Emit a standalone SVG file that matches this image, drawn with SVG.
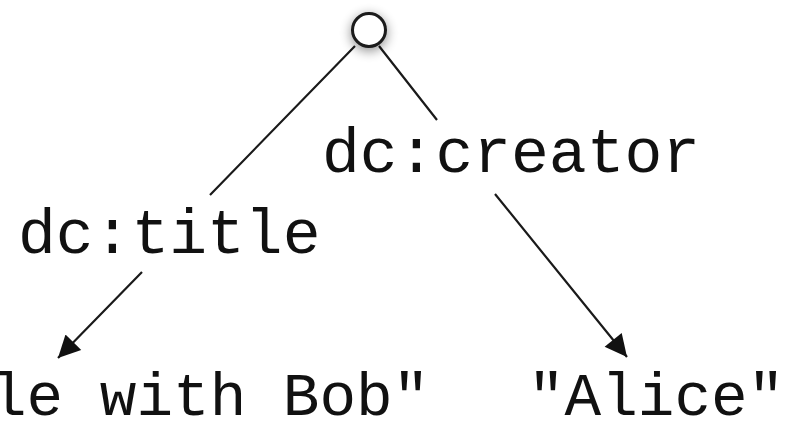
<svg xmlns="http://www.w3.org/2000/svg" width="787" height="421" viewBox="0 0 787 421">
<style>
.lbl{font-family:"Liberation Mono","Courier New",monospace;font-size:63px;fill:#111}
.val{font-family:"Liberation Mono","Courier New",monospace;font-size:61px;fill:#111}
.edge{stroke:#1a1a1a;stroke-width:2.2;fill:none}
</style>
<defs>
<marker id="ah" viewBox="0 0 10 10" refX="10" refY="5" markerUnits="userSpaceOnUse" markerWidth="28" markerHeight="22" orient="auto">
<path d="M0,0 L10,5 L0,10 z" fill="#111"/>
</marker>
<filter id="sh" x="-100%" y="-100%" width="300%" height="300%">
<feGaussianBlur in="SourceAlpha" stdDeviation="6"/>
<feOffset dx="0" dy="3"/>
<feComponentTransfer><feFuncA type="linear" slope="0.45"/></feComponentTransfer>
<feMerge><feMergeNode/><feMergeNode in="SourceGraphic"/></feMerge>
</filter>
</defs>
<rect width="787" height="421" fill="#fff"/>
<g id="connectors">
<path class="edge" d="M355,46 L210,195 M142,272 L58,358" marker-end="url(#ah)"/>
<path class="edge" d="M379,46 L437,120 M495,194 L627,357" marker-end="url(#ah)"/>
<text class="lbl" x="18" y="253">dc:title</text>
<text class="lbl" x="322" y="172">dc:creator</text>
</g>
<g id="node-blank">
<circle cx="369" cy="30" r="16.5" fill="#fff" stroke="#1a1a1a" stroke-width="3" filter="url(#sh)"/>
</g>
<g id="node-title">
<text class="val" x="-10" y="415">le with Bob"</text>
</g>
<g id="node-alice">
<text class="val" x="528" y="415">"Alice"</text>
</g>
</svg>
